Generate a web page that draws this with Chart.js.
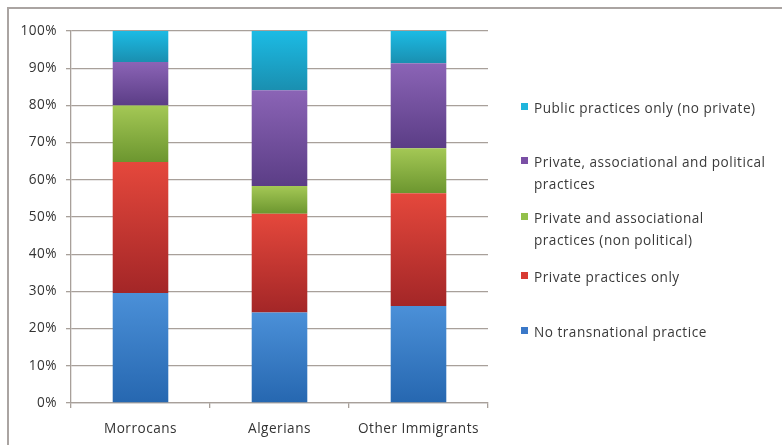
<!DOCTYPE html>
<html>
<head>
<meta charset="utf-8">
<script src="https://cdn.jsdelivr.net/npm/chart.js@4/dist/chart.umd.min.js"></script>
<style>
  html, body { margin: 0; padding: 0; background: #fff; }
  #wrap { position: relative; width: 782px; height: 445px; overflow: hidden; background: #fff; }
  #frame { position: absolute; left: 7px; top: 7px; width: 800px; height: 460px;
           border-top: 2px solid #aaa4a2; border-left: 2px solid #aaa4a2; }
  #chart { position: absolute; left: 0; top: 0; }
  .item { position: absolute; left: 521px; font-family: "Open Sans", sans-serif; font-size: 13.6px;
          letter-spacing: 0.5px; color: #3a3a3a; line-height: 22px; white-space: pre-line; }
  .item i { position: absolute; left: 0; top: 6px; width: 7px; height: 7px; }
  .item span { display: block; margin-left: 13px; }
</style>
</head>
<body>
<div id="wrap">
  <div id="frame"></div>
  <canvas id="chart" width="782" height="445"></canvas>
</div>
<script>
// categories and series (percent of each group)
var groups = ['Morrocans', 'Algerians', 'Other Immigrants'];
var noPractice   = [29.6, 24.3, 26.1];
var privateOnly  = [35.2, 26.6, 30.3];
var privAssoc    = [15.2, 7.4, 12.1];
var privAssocPol = [11.7, 25.8, 22.8];
var publicOnly   = [8.3, 15.9, 8.7];
var yTicks = [0, 10, 20, 30, 40, 50, 60, 70, 80, 90, 100];

var series = [
  { label: 'No transnational practice', data: noPractice, top: '#4b90d8', bottom: '#2667b0', key: '#3a78c8' },
  { label: 'Private practices only', data: privateOnly, top: '#e5483c', bottom: '#a32627', key: '#d83a33' },
  { label: 'Private and associational\npractices (non political)', data: privAssoc, top: '#a4c855', bottom: '#6c962f', key: '#92c04a' },
  { label: 'Private, associational and political\npractices', data: privAssocPol, top: '#8b64b6', bottom: '#5b3d86', key: '#7a4fa5' },
  { label: 'Public practices only (no private)', data: publicOnly, top: '#1cbbe4', bottom: '#1a8fb0', key: '#1fb5dc' }
];

// vertical gradient for each stacked segment
function segmentFill(s, si) {
  return function (c) {
    var chart = c.chart;
    if (!chart.chartArea) return s.top;
    var i = c.dataIndex, start = 0;
    for (var k = 0; k < si; k++) start += series[k].data[i];
    var y = chart.scales.y;
    var g = chart.ctx.createLinearGradient(0, y.getPixelForValue(start + s.data[i]), 0, y.getPixelForValue(start));
    g.addColorStop(0, s.top);
    g.addColorStop(1, s.bottom);
    return g;
  };
}

var gridColor = '#a8a09a';
var tickFont = { family: 'Open Sans', size: 13.6 };

// wider letter spacing like the scanned original
var spacing = {
  id: 'spacing',
  beforeDraw: function (chart) { chart.ctx.letterSpacing = '0.5px'; }
};

new Chart(document.getElementById('chart').getContext('2d'), {
  type: 'bar',
  data: {
    labels: groups,
    datasets: series.map(function (s, si) {
      return { label: s.label, data: s.data, backgroundColor: segmentFill(s, si),
               borderWidth: 0, barPercentage: 0.4, categoryPercentage: 1 };
    })
  },
  plugins: [spacing],
  options: {
    responsive: false,
    animation: false,
    layout: { padding: { left: 8, right: 294, top: 31, bottom: 0 } },
    plugins: { legend: { display: false }, tooltip: { enabled: false } },
    scales: {
      x: {
        stacked: true,
        grid: { offset: true, drawOnChartArea: false, color: gridColor, lineWidth: 1.3, tickLength: 5 },
        border: { color: gridColor, width: 1.3 },
        ticks: { color: '#333', padding: 13, font: tickFont },
        afterFit: function (s) { s.height = 42; }
      },
      y: {
        stacked: true,
        min: 0, max: 100,
        afterBuildTicks: function (s) { s.ticks = yTicks.map(function (v) { return { value: v }; }); },
        grid: { color: gridColor, lineWidth: 1.3, tickLength: 5 },
        border: { color: gridColor, width: 1.3 },
        ticks: { color: '#333', padding: 9, font: tickFont,
                 callback: function (v) { return v + '%'; } },
        afterFit: function (s) { s.width = 63; }
      }
    }
  }
});

// legend, top item first as in the original
var legendTops = [97, 151, 207, 266, 321];
var wrap = document.getElementById('wrap');
series.slice().reverse().forEach(function (s, n) {
  var d = document.createElement('div');
  d.className = 'item';
  d.style.top = legendTops[n] + 'px';
  var box = document.createElement('i');
  box.style.background = s.key;
  var t = document.createElement('span');
  t.textContent = s.label;
  d.appendChild(box);
  d.appendChild(t);
  wrap.appendChild(d);
});
</script>
</body>
</html>
